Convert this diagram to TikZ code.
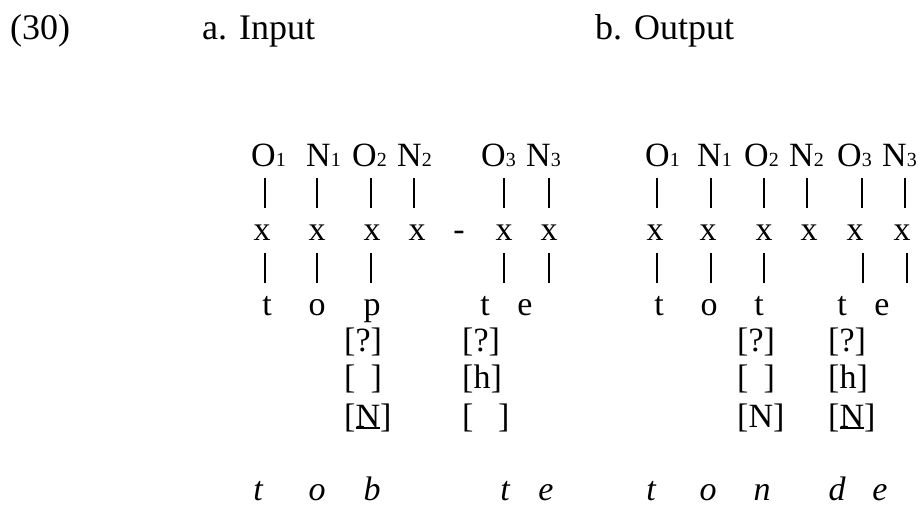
\documentclass[tikz,border=0pt]{standalone}
\usepackage{fontspec}
\setmainfont{Liberation Serif}
\newcommand\fs{\fontsize{34}{40}\selectfont}
\newcommand\titlefs{\fontsize{36}{42}\selectfont}
\newcommand\subfs{\fontsize{20}{24}\selectfont}
\newcommand\lab[2]{#1{\subfs #2}}
\newcommand\ulN{\setbox0\hbox{N}\rlap{\rule[-1.5pt]{\wd0}{1.3pt}}N}
\tikzset{
  gl/.style={font=\fs, inner sep=0pt, anchor=base},
  glw/.style={font=\fs, inner sep=0pt, anchor=base west},
  ttl/.style={font=\titlefs, inner sep=0pt, anchor=base west},
  itg/.style={font=\fs\itshape, inner sep=0pt, anchor=base},
  bar/.style={inner sep=0pt, anchor=north},
}
\newcommand\barglyph{\rule{1.4pt}{30pt}}
\begin{document}
\begin{tikzpicture}[x=1pt,y=-1pt]
\useasboundingbox (0,0) rectangle (921,508);
% titles
\node[ttl] (num) at (10,40) {(30)};
\node[ttl] (ta) at (202,40) {a. Input};
\node[ttl] (tb) at (595,40) {b. Output};
% ---------- a. Input ----------
\node[glw] (aO1) at (251,166) {\lab{O}{1}};
\node[glw] (aN1) at (306,166) {\lab{N}{1}};
\node[glw] (aO2) at (352,166) {\lab{O}{2}};
\node[glw] (aN2) at (397,166) {\lab{N}{2}};
\node[glw] (aO3) at (481,166) {\lab{O}{3}};
\node[glw] (aN3) at (526,166) {\lab{N}{3}};
\foreach \x [count=\i] in {265,317,371,414,504,549}
  \node[bar] (aub\i) at (\x,178) {\barglyph};
\foreach \x [count=\i] in {262,317,372,417,504,549}
  \node[gl] (ax\i) at (\x,240) {x};
\node[gl] (adash) at (459,240) {-};
\foreach \x [count=\i] in {265,317,371,504,549}
  \node[bar] (alb\i) at (\x,253) {\barglyph};
\node[gl] (as1) at (267,315) {t};
\node[gl] (as2) at (317,315) {o};
\node[gl] (as3) at (372,315) {p};
\node[gl] (as4) at (485,315) {t};
\node[gl] (as5) at (525,315) {e};
\node[glw] (af1) at (344,351) {[?]};
\node[glw] (af2) at (344,388) {[\hphantom{?}]};
\node[glw] (af3) at (344,427) {[\ulN]};
\node[glw] (ag1) at (462,351) {[?]};
\node[glw] (ag2) at (462,388) {[h]};
\node[glw] (ag3) at (462,427) {[\hphantom{N}]};
\node[itg] (ai1) at (258,500) {t};
\node[itg] (ai2) at (317,500) {o};
\node[itg] (ai3) at (372,500) {b};
\node[itg] (ai4) at (505,500) {t};
\node[itg] (ai5) at (546,500) {e};
% ---------- b. Output ----------
\node[glw] (bO1) at (645,166) {\lab{O}{1}};
\node[glw] (bN1) at (697,166) {\lab{N}{1}};
\node[glw] (bO2) at (744,166) {\lab{O}{2}};
\node[glw] (bN2) at (789,166) {\lab{N}{2}};
\node[glw] (bO3) at (837,166) {\lab{O}{3}};
\node[glw] (bN3) at (882,166) {\lab{N}{3}};
\foreach \x [count=\i] in {657,711,764,807,862,905}
  \node[bar] (bub\i) at (\x,178) {\barglyph};
\foreach \x [count=\i] in {655,708,764,809,855,902}
  \node[gl] (bx\i) at (\x,240) {x};
\foreach \x [count=\i] in {657,711,764,863,907}
  \node[bar] (blb\i) at (\x,253) {\barglyph};
\node[gl] (bs1) at (659,315) {t};
\node[gl] (bs2) at (709,315) {o};
\node[gl] (bs3) at (759,315) {t};
\node[gl] (bs4) at (842,315) {t};
\node[gl] (bs5) at (882,315) {e};
\node[glw] (bf1) at (737,351) {[?]};
\node[glw] (bf2) at (737,388) {[\hphantom{?}]};
\node[glw] (bf3) at (737,427) {[N]};
\node[glw] (bg1) at (828,351) {[?]};
\node[glw] (bg2) at (828,388) {[h]};
\node[glw] (bg3) at (828,427) {[\ulN]};
\node[itg] (bi1) at (651,500) {t};
\node[itg] (bi2) at (708,500) {o};
\node[itg] (bi3) at (762,500) {n};
\node[itg] (bi4) at (837,500) {d};
\node[itg] (bi5) at (880,500) {e};
\end{tikzpicture}
\end{document}
